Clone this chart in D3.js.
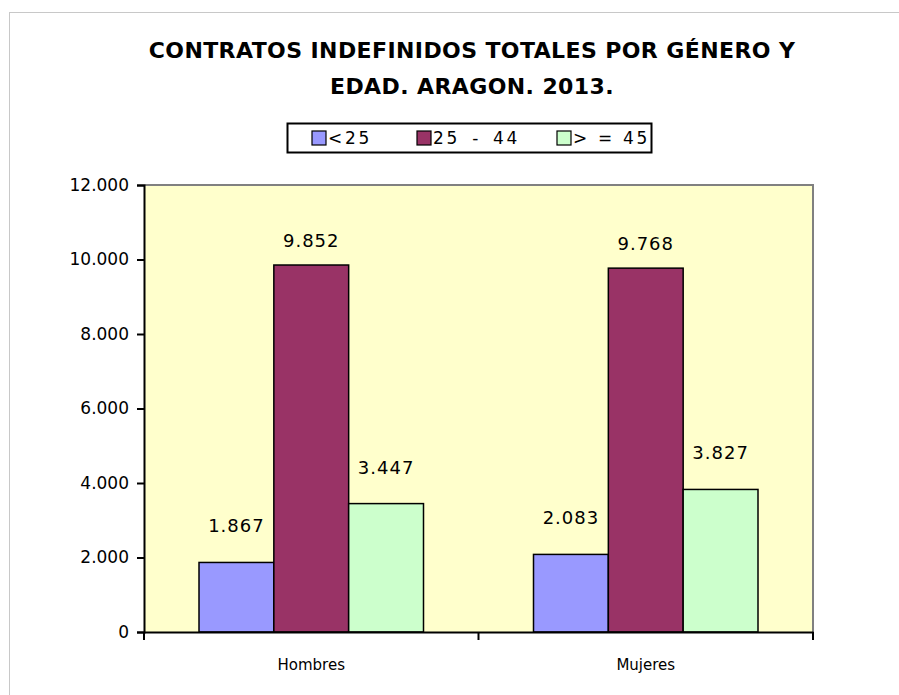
<!DOCTYPE html>
<html>
<head>
<meta charset="utf-8">
<script src="https://cdn.jsdelivr.net/npm/d3@7"></script>
<style>
  body { margin: 0; background: #fff; }
  text { font-family: "DejaVu Sans", Verdana, sans-serif; fill: #000; }
</style>
</head>
<body>
<svg id="chart" width="899" height="695"></svg>
<script>
var categories = ['Hombres', 'Mujeres'];
var series = ['<25', '25 - 44', '> = 45'];
var colors = ['#9999ff', '#993366', '#ccffcc'];
var menos25 = [1867, 2083];
var de25a44 = [9852, 9768];
var mas45 = [3447, 3827];
var yTicks = [0, 2000, 4000, 6000, 8000, 10000, 12000];
var titleLines = ['CONTRATOS INDEFINIDOS TOTALES POR GÉNERO Y', 'EDAD. ARAGON. 2013.'];

var values = [menos25, de25a44, mas45];
var svg = d3.select('#chart');
var fmt = function(d) { return d3.format(',')(d).replace(/,/g, '.'); };

// outer frame
svg.append('rect')
	.attr('x', 9.5).attr('y', 12.5)
	.attr('width', 900).attr('height', 700)
	.attr('fill', 'none').attr('stroke', '#c8c8c8');

var plotL = 144, plotR = 813, plotT = 185, plotB = 632;

var x = d3.scaleBand().domain(categories).range([plotL, plotR]);
var xs = d3.scaleBand().domain(series).range([55, x.bandwidth() - 55]);
var y = d3.scaleLinear().domain([0, 12000]).range([plotB, plotT]);

// plot area
svg.append('rect')
	.attr('x', plotL).attr('y', plotT)
	.attr('width', plotR - plotL).attr('height', plotB - plotT)
	.attr('fill', '#ffffcc');
svg.append('path')
	.attr('d', 'M' + plotL + ',' + plotT + 'H' + plotR + 'V' + plotB)
	.attr('fill', 'none').attr('stroke', '#808080').attr('stroke-width', 2);

// bars + value labels
categories.forEach(function(c, ci) {
	series.forEach(function(s, si) {
		var v = values[si][ci];
		svg.append('rect')
			.attr('x', x(c) + xs(s))
			.attr('y', y(v))
			.attr('width', xs.bandwidth())
			.attr('height', y(0) - y(v))
			.attr('fill', colors[si])
			.attr('stroke', '#000').attr('stroke-width', 1.5);
		// excel puts labels of the short bars a bit higher
		var gap = v > 6000 ? 18 : 30;
		svg.append('text')
			.attr('x', x(c) + xs(s) + xs.bandwidth() / 2)
			.attr('y', y(v) - gap)
			.attr('text-anchor', 'middle')
			.style('font-size', '18px')
			.style('letter-spacing', '1px')
			.text(fmt(v));
	});
});

// y axis
var yAxis = svg.append('g')
	.attr('transform', 'translate(' + plotL + ',0)')
	.call(d3.axisLeft(y).tickValues(yTicks).tickSize(7).tickPadding(8).tickFormat(fmt));
yAxis.attr('font-family', null).attr('font-size', null);
yAxis.selectAll('text').style('font-size', '17px');
yAxis.selectAll('line, path').attr('stroke', '#000').attr('stroke-width', 2);

// x axis
var xAxis = svg.append('g')
	.attr('transform', 'translate(0,' + plotB + ')')
	.call(d3.axisBottom(x).tickSize(0).tickPadding(27));
xAxis.attr('font-family', null).attr('font-size', null);
xAxis.selectAll('text').style('font-size', '15px');
xAxis.select('path').attr('stroke', '#000').attr('stroke-width', 2);
xAxis.selectAll('.sep')
	.data([plotL, (plotL + plotR) / 2, plotR])
	.enter().append('line').attr('class', 'sep')
	.attr('x1', function(d) { return d; }).attr('x2', function(d) { return d; })
	.attr('y1', 0).attr('y2', 8)
	.attr('stroke', '#000').attr('stroke-width', 2);

// title
svg.selectAll('.title')
	.data(titleLines)
	.enter().append('text').attr('class', 'title')
	.attr('x', 472).attr('y', function(d, i) { return 58 + i * 36; })
	.attr('text-anchor', 'middle')
	.style('font-size', '22px').style('font-weight', 'bold')
	.style('letter-spacing', '0.4px')
	.text(function(d) { return d; });

// legend
svg.append('rect')
	.attr('x', 287.5).attr('y', 123.5).attr('width', 364).attr('height', 29)
	.attr('fill', '#fff').attr('stroke', '#000').attr('stroke-width', 2);
var legX = [312, 417, 557];
series.forEach(function(s, i) {
	svg.append('rect')
		.attr('x', legX[i]).attr('y', 131).attr('width', 14).attr('height', 14)
		.attr('fill', colors[i]).attr('stroke', '#000').attr('stroke-width', 1.2);
	svg.append('text')
		.attr('x', legX[i] + 16).attr('y', 144)
		.style('font-size', '17px').style('letter-spacing', '2.7px')
		.style('word-spacing', i == 1 ? '4px' : '0px')
		.text(s);
});
</script>
</body>
</html>
